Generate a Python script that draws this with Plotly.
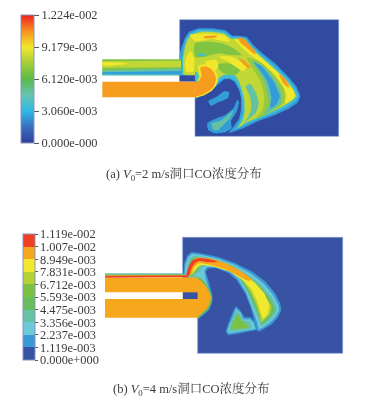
import plotly.graph_objects as go
from plotly.colors import sample_colorscale

W, H = 373, 402
FONT = "Liberation Serif, Noto Serif CJK SC, Noto Sans CJK SC, serif"
TXT = "#3a3a3a"

# ---------- colour scales ----------
SCALE_A = [[0, "#2e3f98"], [0.12, "#3a6cc0"], [0.25, "#2fb8e6"], [0.37, "#66c4b4"], [0.5, "#5cb948"],
           [0.62, "#a2cd3a"], [0.75, "#f1e82c"], [0.87, "#f7941d"], [1, "#ed2024"]]
BAND_COLORS_B = ["#3953a4", "#3b9ad6", "#6cc9d9", "#66c1a6", "#69bd5c",
                 "#7cc242", "#b5d334", "#f2e92e", "#f6a71c", "#ef4023"]
SCALE_B = []
for i, c in enumerate(BAND_COLORS_B):
    SCALE_B += [[i / 10, c], [(i + 1) / 10, c]]

MAX_A = 1.224e-2
MAX_B = 1.119e-2
TICKS_A = [0, 3.06e-3, 6.12e-3, 9.179e-3, 1.224e-2]
TICKTEXT_A = ["0.000e-000", "3.060e-003", "6.120e-003", "9.179e-003", "1.224e-002"]
TICKS_B = [i * 1.119e-3 for i in range(11)]
TICKTEXT_B = ["0.000e+000", "1.119e-003", "2.237e-003", "3.356e-003", "4.475e-003", "5.593e-003",
              "6.712e-003", "7.831e-003", "8.949e-003", "1.007e-002", "1.119e-002"]

# concentration levels of the contour bands, panel (a)
L_BG, L_1, L_2, L_3, L_4, L_5, L_6, L_7 = 4e-4, 2.5e-3, 3.6e-3, 4.8e-3, 6.9e-3, 8.2e-3, 9.2e-3, 1.05e-2
L_STREAK = 7.4e-3

# ---------- panel (a) regions: (level, outline) ----------
A_DOMAIN = [(14, 14), (491, 14), (491, 364), (60, 364), (60, 199), (14, 199)]
A_OUTER = [(14, 133), (14, 118), (20, 95), (30, 68), (42, 50), (70, 40), (110, 40), (150, 45), (172, 62), (190, 62),
           (215, 65), (235, 90), (262, 115), (300, 145), (340, 185), (365, 215), (376, 243), (368, 263), (340, 282),
           (300, 300), (250, 318), (205, 340), (170, 352), (160, 355), (175, 335), (192, 312), (198, 285), (198, 250),
           (192, 225), (178, 200), (165, 192), (148, 193), (125, 212), (100, 232), (75, 245), (60, 252), (60, 185),
           (14, 182)]
A_TEAL = [(20, 133), (26, 95), (34, 70), (46, 55), (72, 45), (110, 45), (148, 50), (170, 66), (190, 67), (212, 70),
          (231, 94), (258, 119), (296, 150), (336, 188), (360, 218), (371, 243), (362, 258), (335, 276), (300, 294),
          (250, 312), (200, 334), (178, 346), (193, 322), (203, 295), (203, 260), (196, 225), (182, 198), (165, 188),
          (145, 189), (122, 207), (97, 227), (72, 242), (62, 247), (62, 190), (20, 180)]
A_BODY = [(24, 133), (30, 95), (38, 72), (50, 59), (75, 50), (110, 50), (146, 55), (168, 71), (190, 72), (210, 75),
          (228, 98), (255, 123), (292, 155), (331, 192), (354, 222), (364, 243), (354, 255), (330, 270), (300, 286),
          (260, 304), (215, 322), (188, 340), (204, 315), (209, 290), (208, 255), (201, 225), (192, 200), (182, 182),
          (168, 177), (145, 180), (120, 197), (100, 217), (75, 234), (64, 240), (66, 190), (25, 178)]
A_EDGE_YELLOW = [(178, 72), (208, 76), (238, 110), (280, 146), (326, 188), (354, 225), (360, 243), (350, 254),
                 (330, 266), (334, 240), (320, 208), (292, 172), (255, 140), (222, 116), (195, 92)]
A_STREAK_2_GREEN = [(216, 128), (255, 140), (300, 183), (328, 225), (328, 262), (292, 288), (240, 312), (262, 285),
                    (268, 245), (255, 195), (232, 160)]
A_STREAK_2_TEAL = [(230, 138), (260, 150), (300, 194), (320, 238), (317, 266), (287, 288), (266, 297), (282, 270),
                   (279, 240), (266, 195), (245, 160)]
A_STREAK_2_BLUE = [(236, 142), (262, 156), (297, 202), (314, 245), (304, 268), (286, 280), (289, 245), (275, 195),
                   (252, 162)]
A_STREAK_1_TEAL = [(212, 214), (226, 207), (243, 234), (251, 265), (243, 293), (222, 312), (203, 328), (218, 308),
                   (229, 280), (225, 245)]
A_PATCH_1 = [(60, 85), (100, 80), (140, 85), (175, 100), (200, 120), (165, 120), (130, 115), (90, 125), (60, 125)]
A_PATCH_2 = [(125, 150), (160, 145), (195, 165), (180, 180), (145, 175)]
A_YEL_1 = [(45, 60), (110, 56), (150, 62), (165, 80), (110, 72), (60, 78)]
A_YEL_2 = [(130, 125), (170, 125), (215, 155), (205, 168), (160, 140)]
A_YEL_3 = [(30, 140), (45, 108), (58, 130), (55, 170), (35, 170)]
A_YEL_4 = [(90, 140), (125, 135), (130, 155), (115, 172), (95, 152)]
A_ORANGE_1 = [(190, 68), (205, 70), (225, 90), (243, 112), (240, 118), (215, 98), (195, 82)]
A_ORANGE_2 = [(312, 178), (325, 185), (342, 212), (340, 218), (325, 205)]
A_ORANGE_3 = [(192, 130), (205, 135), (228, 158), (222, 160), (205, 148)]
A_ORANGE_4 = [(85, 65), (125, 62), (125, 67), (90, 70)]
A_SPOT = [(70, 116), (90, 118), (88, 124), (72, 123)]
A_ISLAND = [(100, 258), (125, 245), (150, 228), (163, 232), (158, 250), (130, 262), (108, 272)]
A_LOWER_OUT = [(97, 325), (125, 310), (150, 300), (175, 280), (187, 255), (192, 262), (185, 290), (168, 318),
               (170, 340), (150, 352), (120, 355), (100, 345)]
A_LOWER_TEAL = [(110, 325), (135, 318), (165, 295), (175, 285), (165, 310), (140, 335), (130, 345), (115, 345)]
A_NOSE_YEL = [(68, 152), (85, 148), (105, 150), (118, 162), (126, 178), (129, 197), (122, 214), (110, 228), (88, 241),
              (62, 248), (60, 205), (70, 198), (74, 185), (72, 168)]
A_NOSE = [(76, 156), (92, 154), (106, 160), (118, 174), (124, 192), (118, 212), (106, 226), (85, 238), (62, 245),
          (60, 203), (72, 197), (80, 182), (77, 168)]
A_NOTCH = [(60, 170), (66, 172), (71, 180), (71, 188), (64, 197), (60, 199)]
A_DUCT_UP = [(-218, 133), (18, 133), (18, 181), (-218, 181)]
A_DUCT_LIGHT = [(-218, 139), (18, 137), (18, 157), (-218, 158)]
A_DUCT_YEL = [(-218, 142), (-140, 146), (-218, 151)]
A_DUCT_TEAL = [(-218, 166), (18, 160), (18, 181), (-218, 181)]
A_DUCT_BLUE = [(-218, 172), (18, 168), (18, 178), (-218, 177)]
A_DUCT_CYAN = [(-218, 177), (18, 178), (18, 181), (-218, 181)]
A_BLOCK = [(14, 181), (60, 181), (60, 199), (14, 199)]
A_DUCT_LOW = [(-218, 200), (60, 200), (60, 247), (-218, 247)]

REGIONS_A = [
    (L_BG, A_DOMAIN), (L_1, A_OUTER), (L_2, A_TEAL), (L_5, A_BODY), (L_6, A_EDGE_YELLOW),
    (L_STREAK, A_STREAK_2_GREEN), (L_3, A_STREAK_2_TEAL), (L_1, A_STREAK_2_BLUE), (L_3, A_STREAK_1_TEAL),
    (L_4, A_PATCH_1), (L_4, A_PATCH_2), (L_6, A_YEL_1), (L_6, A_YEL_2), (L_6, A_YEL_3),
    (L_6, A_YEL_4), (L_7, A_ORANGE_1), (L_7, A_ORANGE_2), (L_7, A_ORANGE_3), (L_7, A_ORANGE_4), (L_2, A_SPOT),
    (L_1, A_ISLAND), (L_1, A_LOWER_OUT), (L_3, A_LOWER_TEAL), (L_6, A_NOSE_YEL), (L_7, A_NOSE),
    (L_4, A_DUCT_UP), (L_5, A_DUCT_LIGHT), (L_6, A_DUCT_YEL), (L_3, A_DUCT_TEAL), (L_1, A_DUCT_BLUE),
    (L_2, A_DUCT_CYAN), (L_BG, A_BLOCK), (L_2, A_NOTCH), (L_7, A_DUCT_LOW),
]
STRAIGHT_A = [A_DOMAIN, A_DUCT_UP, A_DUCT_LIGHT, A_DUCT_TEAL, A_DUCT_BLUE, A_DUCT_CYAN, A_BLOCK, A_DUCT_LOW,
              A_NOSE, A_NOSE_YEL, A_NOTCH, A_OUTER, A_TEAL, A_BODY]

# ---------- panel (b) regions: (band index, outline) ----------
B_DOMAIN = [(23, 22), (503, 22), (503, 370), (68, 370), (68, 207), (23, 207)]
B_OUTER = [(25, 135), (28, 100), (36, 78), (50, 66), (85, 71), (130, 81), (180, 99), (230, 124), (270, 154),
           (300, 189), (315, 219), (319, 240), (309, 262), (290, 283), (265, 298), (250, 306), (244, 295), (238, 270),
           (228, 235), (210, 190), (185, 150), (160, 128), (125, 115), (100, 115), (92, 125), (98, 145), (105, 170),
           (112, 195), (112, 215), (102, 240), (85, 255), (68, 268), (68, 240), (40, 137)]
B_CYAN = [(29, 135), (32, 102), (40, 82), (52, 71), (85, 76), (130, 86), (178, 104), (226, 130), (265, 160),
          (294, 194), (309, 222), (313, 240), (303, 259), (285, 278), (262, 293), (251, 298), (246, 275), (232, 235),
          (214, 188), (190, 148), (165, 124), (125, 111), (95, 111), (88, 122), (92, 148), (100, 172), (107, 195),
          (107, 215), (98, 238), (80, 252), (68, 262), (40, 140)]
B_TEAL = [(33, 135), (37, 104), (44, 87), (56, 77), (90, 81), (132, 91), (176, 109), (222, 136), (259, 165),
          (288, 198), (303, 224), (307, 240), (297, 257), (279, 275), (259, 289), (253, 275), (236, 235),
          (218, 188), (193, 146), (170, 122), (130, 107), (95, 105), (80, 116), (76, 125), (50, 137)]
B_GREEN = [(36, 135), (42, 105), (48, 91), (60, 82), (92, 86), (132, 95), (175, 113), (222, 141), (255, 170),
           (282, 203), (296, 228), (299, 240), (290, 256), (272, 274), (258, 284), (255, 265), (240, 230), (222, 188),
           (197, 146), (172, 120), (135, 104), (95, 101), (72, 110), (60, 130)]
B_LIME = [(40, 135), (46, 106), (53, 94), (66, 86), (95, 89), (135, 98), (175, 116), (222, 146), (252, 175),
          (277, 207), (290, 230), (285, 252), (266, 271), (258, 277), (255, 258), (244, 225), (227, 186), (201, 148),
          (175, 122), (135, 105), (90, 102), (68, 112), (55, 132)]
B_YELLOW = [(45, 135), (55, 100), (70, 90), (110, 92), (150, 103), (195, 124), (240, 158), (268, 190), (283, 225),
            (279, 250), (265, 268), (256, 245), (246, 212), (229, 178), (203, 150), (165, 125), (110, 108), (75, 104),
            (55, 125)]
B_ORANGE = [(42, 137), (50, 100), (62, 84), (100, 85), (150, 99), (195, 122), (230, 148), (222, 153), (190, 138),
            (150, 118), (100, 103), (72, 100), (57, 112), (48, 137)]
B_RED = [(34, 137), (42, 108), (52, 92), (72, 85), (100, 87), (128, 95), (105, 97), (72, 93), (60, 100), (50, 115),
         (42, 137)]
B_TRI_OUT = [(152, 305), (158, 285), (170, 255), (182, 228), (195, 240), (208, 262), (226, 262), (238, 272),
             (246, 300), (225, 305), (195, 310), (160, 316)]
B_TRI_CYAN = [(157, 303), (164, 282), (175, 258), (183, 236), (197, 248), (205, 268), (225, 268), (236, 278),
              (241, 297), (225, 300), (192, 305), (162, 310)]
B_TRI_TEAL = [(162, 300), (172, 270), (184, 242), (198, 255), (203, 272), (222, 274), (232, 290), (222, 296),
              (190, 301), (167, 305)]
B_TRI_GREEN = [(167, 297), (178, 268), (188, 254), (200, 272), (215, 285), (220, 294), (190, 297)]
B_NOSE_EDGE = [(20, 137), (50, 135), (66, 138), (82, 148), (96, 166), (106, 185), (112, 203), (108, 222), (100, 238),
               (85, 251), (68, 266), (68, 140)]
B_NOSE = [(-210, 143), (40, 140), (60, 142), (78, 152), (92, 168), (102, 185), (108, 203), (104, 220), (97, 234),
          (82, 248), (66, 263), (-210, 263)]
B_DUCT_TOP_TEAL = [(-210, 130), (25, 130), (25, 137), (-210, 137)]
B_DUCT_TOP_LIME = [(-210, 134), (30, 134), (30, 138), (-210, 138)]
B_DUCT_TOP_RED = [(-210, 137), (40, 136), (40, 141), (-210, 143)]
B_GAP = [(-210, 187), (23, 187), (23, 207), (-210, 207)]
B_BLOCK = [(23, 187), (68, 187), (68, 207), (23, 207)]

REGIONS_B = [
    (0, B_DOMAIN), (1, B_OUTER), (2, B_CYAN), (3, B_TEAL), (4, B_GREEN), (6, B_LIME), (7, B_YELLOW), (8, B_ORANGE),
    (9, B_RED), (1, B_TRI_OUT), (2, B_TRI_CYAN), (3, B_TRI_TEAL), (5, B_TRI_GREEN), (4, B_NOSE_EDGE), (8, B_NOSE),
    (3, B_DUCT_TOP_TEAL), (6, B_DUCT_TOP_LIME), (9, B_DUCT_TOP_RED), (0, B_BLOCK),
]
STRAIGHT_B = [B_DOMAIN, B_NOSE, B_NOSE_EDGE, B_DUCT_TOP_TEAL, B_DUCT_TOP_LIME, B_DUCT_TOP_RED, B_BLOCK,
              B_OUTER, B_CYAN, B_TEAL, B_GREEN, B_LIME, B_YELLOW, B_TRI_OUT, B_TRI_CYAN, B_TRI_TEAL, B_TRI_GREEN]

fig = go.Figure()


def add_region(pts, color, xa, ya, straight, line=None):
    fig.add_trace(go.Scatter(x=[p[0] for p in pts] + [pts[0][0]], y=[p[1] for p in pts] + [pts[0][1]],
                             mode="lines", fill="toself", fillcolor=color, xaxis=xa, yaxis=ya,
                             line=dict(width=0.6 if line else 0, color=line or color,
                                       shape="linear" if straight else "spline", smoothing=0.6),
                             hoverinfo="skip", showlegend=False))


for level, pts in REGIONS_A:
    c = sample_colorscale(SCALE_A, level / MAX_A)[0]
    add_region(pts, c, "x", "y", any(pts is s for s in STRAIGHT_A), line="#7f9ccf" if pts is A_DOMAIN else None)
for band, pts in REGIONS_B:
    add_region(pts, BAND_COLORS_B[band], "x2", "y2", any(pts is s for s in STRAIGHT_B),
               line="#7f9ccf" if pts is B_DOMAIN else None)
add_region(B_GAP, "#ffffff", "x2", "y2", True)


def colorbar_trace(scale, cmax, ticks, labels, xa, ya, left, top, height, thick, ticklen):
    fig.add_trace(go.Scatter(
        x=[0], y=[40], xaxis=xa, yaxis=ya, mode="markers", hoverinfo="skip", showlegend=False,
        marker=dict(size=0.1, color=[cmax / 2], colorscale=scale, cmin=0, cmax=cmax, showscale=True,
                    colorbar=dict(x=left / W, xanchor="left", y=1 - top / H, yanchor="top",
                                  lenmode="pixels", len=height, thicknessmode="pixels", thickness=thick,
                                  xpad=0, ypad=0, tickmode="array", tickvals=ticks, ticktext=labels,
                                  ticks="outside", ticklen=ticklen, tickwidth=1, tickcolor="#555",
                                  tickfont=dict(family=FONT, size=12.4, color=TXT),
                                  outlinecolor="#8a94b8", outlinewidth=1, borderwidth=0))))


colorbar_trace(SCALE_A, MAX_A, TICKS_A, TICKTEXT_A, "x", "y", 21.4, 15, 128.3, 13.2, 5)
colorbar_trace(SCALE_B, MAX_B, TICKS_B, TICKTEXT_B, "x2", "y2", 23.3, 234, 126, 12.2, 2.5)

axis = dict(visible=False, fixedrange=True)
fig.update_layout(
    width=W, height=H, margin=dict(l=0, r=0, t=0, b=0, autoexpand=False),
    paper_bgcolor="white", plot_bgcolor="rgba(0,0,0,0)", showlegend=False,
    xaxis=dict(axis, domain=[95 / W, 345 / W], range=[-240, 510]),
    yaxis=dict(axis, domain=[1 - 140 / H, 1 - 15 / H], range=[375, 0]),
    xaxis2=dict(axis, domain=[95 / W, 345 / W], range=[-240, 510]),
    yaxis2=dict(axis, domain=[1 - 355 / H, 1 - 230 / H], range=[375, 0]),
    annotations=[
        dict(text="(a) <i>V</i><sub>0</sub>=2 m/s洞口CO浓度分布", x=184 / W, y=1 - 175 / H, xref="paper", yref="paper",
             showarrow=False, xanchor="center", yanchor="middle", font=dict(family=FONT, size=12.5, color=TXT)),
        dict(text="(b) <i>V</i><sub>0</sub>=4 m/s洞口CO浓度分布", x=191 / W, y=1 - 389 / H, xref="paper", yref="paper",
             showarrow=False, xanchor="center", yanchor="middle", font=dict(family=FONT, size=12.5, color=TXT)),
    ],
)
fig.write_html("out.html", config=dict(displayModeBar=False),
               post_script="document.body.style.margin='0';document.body.style.overflow='hidden';"
                           "document.querySelector('.plotly-graph-div').style.filter='blur(0.45px)';")
